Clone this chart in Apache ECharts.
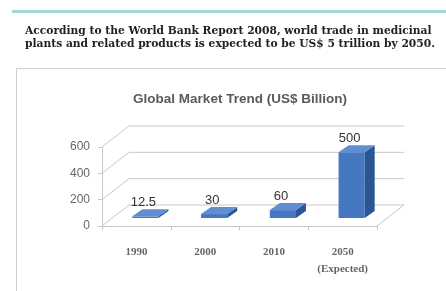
<!DOCTYPE html>
<html>
<head>
<meta charset="utf-8">
<script src="https://cdn.jsdelivr.net/npm/echarts@6/dist/echarts.min.js"></script>
<style>
  html, body { margin: 0; padding: 0; background: #fff; }
  #chart { width: 446px; height: 291px; }
</style>
</head>
<body>
<div id="chart"></div>
<script>
const years = ['1990', '2000', '2010', '2050\n(Expected)'];
const values = [12.5, 30, 60, 500];
const yTicks = [0, 200, 400, 600];
const titleText = 'Global Market Trend (US$ Billion)';
const noteLines = [
  'According to the World Bank Report 2008, world trade in medicinal',
  'plants and related products is expected to be US$ 5 trillion by 2050.'
];

// depth of the 3d box and where the bars sit inside it
const wallDx = 27, wallDy = -21;
const barDx = 9, barDy = -8;
const depthDx = 10, depthDy = -7;
const lineColor = '#c8c8c8';

const chart = echarts.init(document.getElementById('chart'));

function renderFrame(params, api) {
  const cs = params.coordSys;
  const p = api.coord([0, api.value(1)]);
  const x0 = cs.x, x1 = cs.x + cs.width, y = p[1];
  const children = [{
    type: 'polyline',
    shape: { points: [[x0, y], [x0 + wallDx, y + wallDy], [x1 + wallDx, y + wallDy]] },
    style: { stroke: lineColor, lineWidth: 1, fill: null }
  }];
  if (api.value(1) === 0) {
    children.push({
      type: 'polyline',
      shape: { points: [[x1, y], [x1 + wallDx, y + wallDy]] },
      style: { stroke: lineColor, lineWidth: 1, fill: null }
    });
  }
  return { type: 'group', children: children };
}

function renderBar(params, api) {
  const i = api.value(0), v = api.value(1);
  const base = api.coord([i, 0]);
  const top = api.coord([i, v]);
  const band = api.size([1, 0])[0];
  const w = band * 0.38;
  const xl = base[0] + barDx - w / 2, xr = xl + w;
  const yb = base[1] + barDy, yt = top[1] + barDy;
  return {
    type: 'group',
    children: [
      {
        type: 'polygon',
        shape: { points: [[xl, yb], [xr, yb], [xr, yt], [xl, yt]] },
        style: { fill: '#4678c2' }
      },
      {
        type: 'polygon',
        shape: { points: [[xr, yb], [xr + depthDx, yb + depthDy], [xr + depthDx, yt + depthDy], [xr, yt]] },
        style: { fill: '#2c5594' }
      },
      {
        type: 'polygon',
        shape: { points: [[xl, yt], [xr, yt], [xr + depthDx, yt + depthDy], [xl + depthDx, yt + depthDy]] },
        style: { fill: '#5f8fd2' }
      },
      {
        type: 'text',
        style: {
          x: base[0] + 7, y: yt + depthDy - 7,
          text: String(v),
          fill: '#333',
          font: '13px "Liberation Sans", sans-serif',
          align: 'center', verticalAlign: 'middle'
        }
      }
    ]
  };
}

chart.setOption({
  backgroundColor: '#fff',
  animation: false,
  title: {
    text: titleText,
    left: 235, top: 87,
    textAlign: 'center',
    textStyle: { fontSize: 13.5, fontWeight: 'bold', color: '#5a5a5a', fontFamily: 'Liberation Sans' }
  },
  graphic: [
    { type: 'line', shape: { x1: 12, y1: 11.5, x2: 446, y2: 11.5 }, style: { stroke: '#a6d6d6', lineWidth: 3 } },
    {
      type: 'text', left: 25, top: 25,
      style: {
        text: noteLines.join('\n'), lineHeight: 13,
        fill: '#222', font: 'bold 10.7px "DejaVu Serif", serif'
      }
    },
    { type: 'polyline', shape: { points: [[16.5, 291], [16.5, 68.5], [446, 68.5]] }, style: { stroke: '#cfcfcf', lineWidth: 1, fill: null } }
  ],
  grid: { left: 102, top: 147, width: 275, height: 79 },
  xAxis: {
    type: 'category',
    data: years,
    axisLine: { lineStyle: { color: lineColor } },
    axisTick: { show: true, length: 4, lineStyle: { color: lineColor } },
    axisLabel: {
      interval: 0, hideOverlap: false,
      margin: 18, color: '#666', fontSize: 11, lineHeight: 17,
      fontFamily: 'Liberation Serif', fontWeight: 'bold'
    }
  },
  yAxis: {
    type: 'value',
    min: 0, max: 600, interval: 200,
    axisLine: { show: true, lineStyle: { color: lineColor } },
    axisTick: { show: true, length: 4, lineStyle: { color: lineColor } },
    axisLabel: { margin: 12, color: '#666', fontSize: 12, fontFamily: 'Liberation Sans' },
    splitLine: { show: false }
  },
  series: [
    {
      type: 'custom',
      silent: true,
      z: 1,
      renderItem: renderFrame,
      data: yTicks.map(v => [0, v])
    },
    {
      type: 'custom',
      z: 3,
      renderItem: renderBar,
      data: values.map((v, i) => [i, v])
    }
  ]
});
</script>
</body>
</html>
